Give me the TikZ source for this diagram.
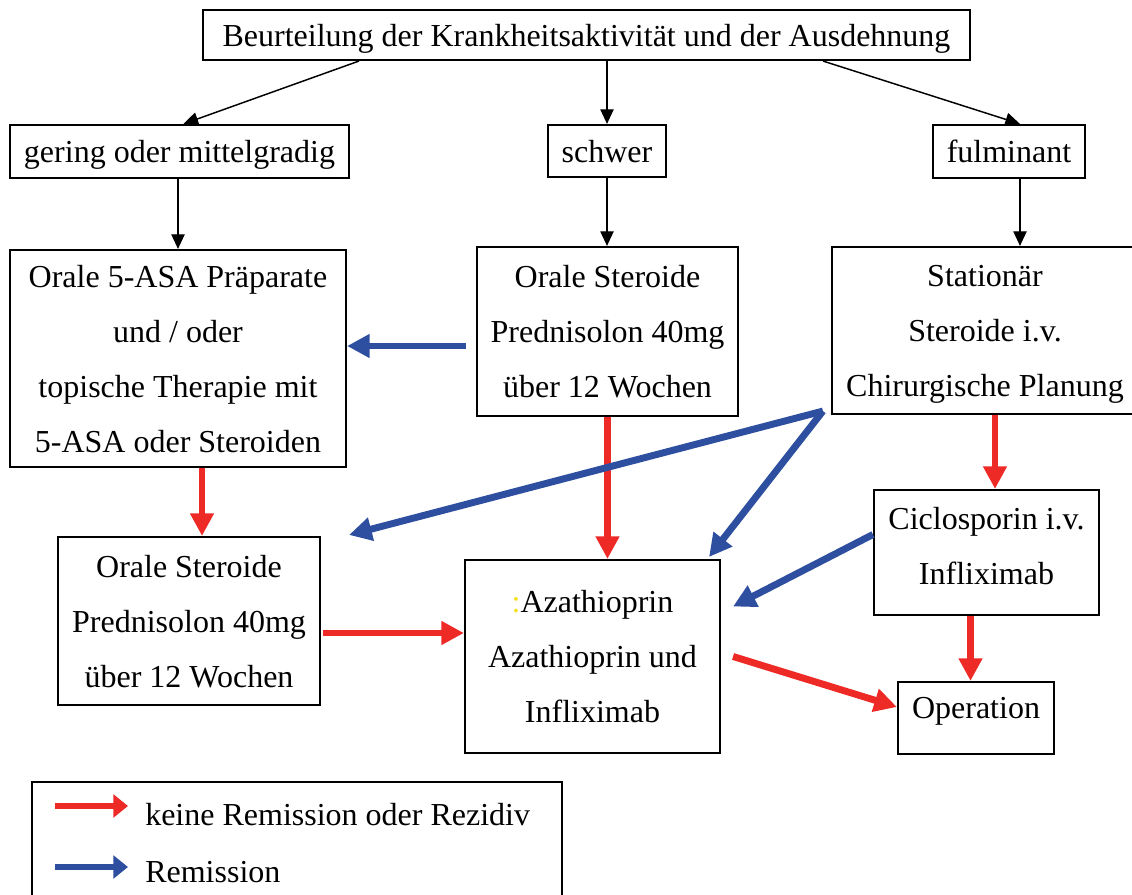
\documentclass[tikz,border=0pt]{standalone}
\usepackage{fontspec}
\setmainfont{Liberation Serif}
\usetikzlibrary{arrows.meta,calc}
\definecolor{myred}{HTML}{EE2A27}
\definecolor{myblue}{HTML}{2E4FA0}
\definecolor{myyel}{HTML}{F2E21C}
\tikzset{
  box/.style 2 args={draw, line width=1.6pt, minimum width=#1*0.75pt, minimum height=#2*0.75pt,
    inner sep=0pt, align=center, text depth=0pt, font=\fontsize{24}{41.25}\selectfont},
  thin arrow/.style={line width=1.1pt, -{Triangle[length=11pt,width=10pt]}},
  red arrow/.style={draw=myred, line width=5.2pt, -{Triangle[length=17pt,width=17pt]}, myred},
  blue arrow/.style={draw=myblue, line width=5.2pt, -{Triangle[length=17pt,width=17pt]}, myblue},
  red small/.style={draw=myred, line width=5.2pt, -{Triangle[length=11pt,width=17pt]}, myred},
  blue small/.style={draw=myblue, line width=5.2pt, -{Triangle[length=11pt,width=17pt]}, myblue},
  lbl/.style={font=\fontsize{24}{41.25}\selectfont, inner sep=0pt, align=center},
}
\begin{document}
\begin{tikzpicture}[x=0.75pt, y=-0.75pt]
\clip (0,0) rectangle (1132,895);
\fill[white] (0,0) rectangle (1132,895);
% top level
\node[box={767}{50}] (T) at (586.5,35) {Beurteilung der Krankheitsaktivität und der Ausdehnung};
\node[box={339}{53}] (G) at (179.5,151.5) {gering oder mittelgradig};
\node[box={118}{52}] (S) at (607,151) {schwer};
\node[box={152}{53}] (F) at (1009,151.5) {fulminant};
% second level
\node[box={336}{217}] (A) at (178,358.5) {Orale 5-ASA Präparate\\und / oder\\topische Therapie mit\\5-ASA oder Steroiden};
\node[box={261}{169}] (B) at (607.5,331.5) {Orale Steroide\\Prednisolon 40mg\\über 12 Wochen};
\node[box={306}{167}] (C) at (985,330.5) {Stationär\\Steroide i.v.\\Chirurgische Planung};
% third level
\node[box={262}{168}] (D) at (189,621) {Orale Steroide\\Prednisolon 40mg\\über 12 Wochen};
\node[box={255}{193}] (E) at (592.5,656.5) {\textcolor{myyel}{:}Azathioprin\\Azathioprin und\\Infliximab};
\node[box={225}{125}, label={[lbl, yshift=4.5pt]center:{Ciclosporin i.v.\\Infliximab}}] (Ci) at (986.5,552.5) {};
\node[box={156}{72}, label={[lbl, yshift=5pt]center:{Operation}}] (O) at (976,718) {};
% legend
\node[box={530}{130}] (L) at (297,847) {};
\coordinate (r1) at (55,806);
\coordinate (r2) at (128,806);
\coordinate (b1) at (55,867);
\coordinate (b2) at (128,867);
\node[lbl, anchor=west] (lt1) at (145,815) {keine Remission oder Rezidiv};
\node[lbl, anchor=west] (lt2) at (145,872) {Remission};
\draw[red small] (r1) -- (r2);
\draw[blue small] (b1) -- (b2);
% black arrows
\draw[thin arrow] ($(T.south west)+(157,0)$) -- ($(G.north)+(4,0)$);
\draw[thin arrow] (T.south -| S.north) -- (S.north);
\draw[thin arrow] ($(T.south east)+(-148,0)$) -- ($(F.north)+(11,0)$);
\draw[thin arrow] (G.south -| A.north) -- (A.north);
\draw[thin arrow] (S.south) -- (S.south |- B.north);
\draw[thin arrow] ($(F.south)+(11,0)$) coordinate (f1) -- (f1 |- C.north);
% red arrows
\draw[red arrow] ($(A.south)+(24,0)$) coordinate (a1) -- (a1 |- D.north);
\draw[red arrow] (B.south) -- (B.south |- E.north);
\draw[red arrow] ($(C.south)+(10,0)$) coordinate (c1) -- (c1 |- Ci.north);
\draw[red arrow] ($(D.east)+(2,12)$) coordinate (d1) -- (d1 -| E.west);
\draw[red arrow] ($(E.east)+(12,0)$) -- ($(O.west)+(0,-11)$);
\draw[red arrow] ($(Ci.south)+(-16,0)$) coordinate (ci1) -- (ci1 |- O.north);
% blue arrows
\draw[blue arrow] ($(B.west)+(-10,14.5)$) coordinate (bb1) -- (bb1 -| A.east);
\draw[blue arrow] ($(C.south west)+(-8,-4)$) -- ($(D.north east)+(28,-1)$);
\draw[blue arrow] ($(C.south west)+(-8,-4)$) -- ($(E.north east)+(-12,-2)$);
\draw[blue arrow] ($(Ci.west)+(0,-18)$) -- ($(E.east)+(12,-50)$);
\end{tikzpicture}
\end{document}
